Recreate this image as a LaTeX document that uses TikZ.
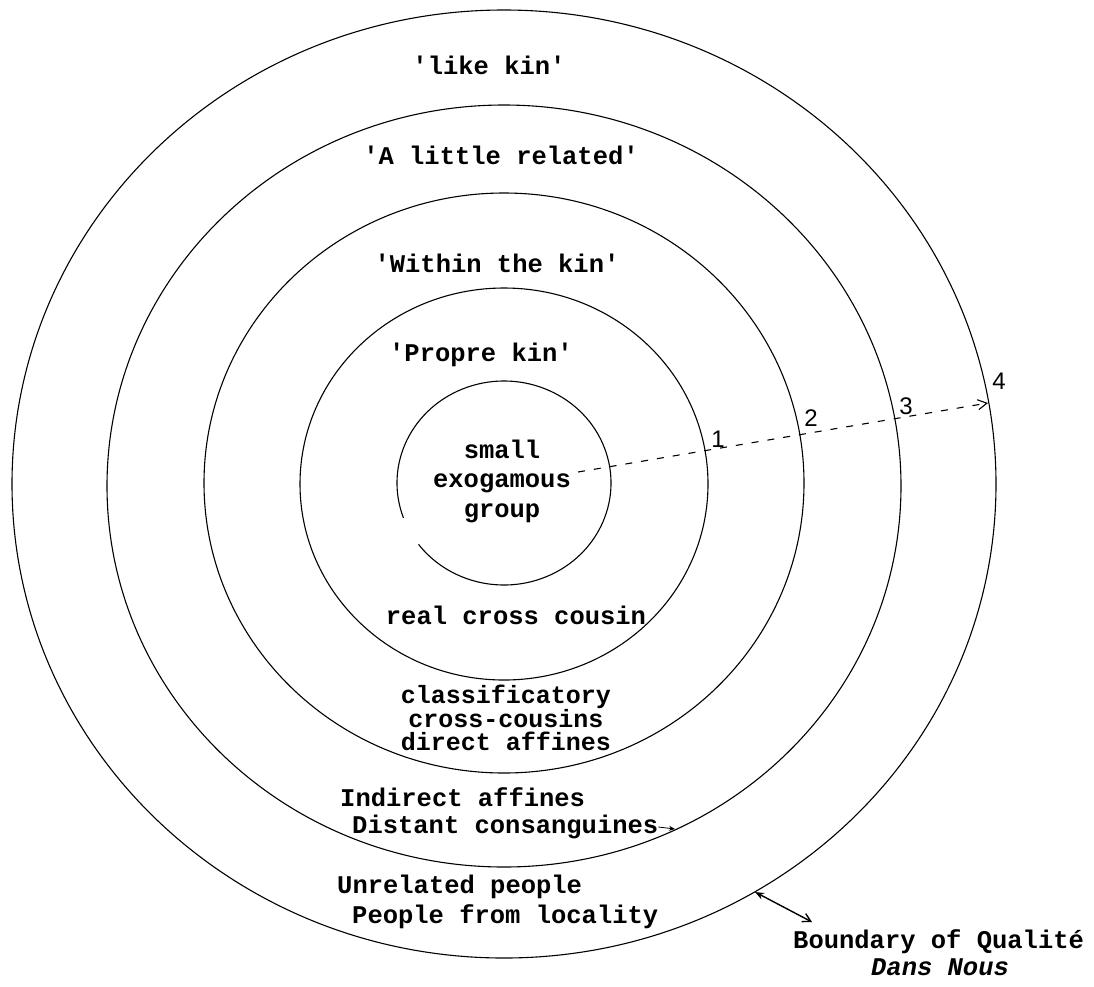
\documentclass[tikz,border=0pt]{standalone}
\usepackage{fontspec}
\setmainfont{Liberation Serif}
\setmonofont{Liberation Mono}
\setsansfont{Liberation Sans}
\usetikzlibrary{arrows.meta}

\begin{document}
\begin{tikzpicture}[x=1pt, y=-1pt,
    every node/.style={font=\ttfamily\bfseries\fontsize{25.5}{29.5}\selectfont, align=center, inner sep=0pt},
    ring/.style={line width=1.1pt},
    tight/.style={font=\ttfamily\bfseries\fontsize{25}{23}\selectfont},
    num/.style={font=\sffamily\fontsize{24}{24}\selectfont},
    ray/.style={line width=1.1pt, dash pattern=on 7pt off 9pt, -{Straight Barb[length=9pt, width=10pt]}},
    bnd/.style={line width=1.4pt, {Stealth[length=9pt, width=7pt]}-{Straight Barb[length=8pt, width=9pt]}}
]
\useasboundingbox (0,0) rectangle (1094,986);
% rings, innermost one with its small break
\draw[ring] (504,483) ++(160:107 and 102) arc[start angle=160, end angle=503, x radius=107, y radius=102];
\draw[ring] (504,484) ellipse[x radius=204, y radius=196];
\draw[ring] (504,483) ellipse[x radius=300, y radius=290];
\draw[ring] (504,486) ellipse[x radius=397, y radius=381];
\draw[ring] (504,484) ellipse[x radius=492, y radius=474];

\node (like) at (489,65) {'like kin'};
\node (little) at (501,155) {'A little related'};
\node (within) at (497,263) {'Within the kin'};
\node (propre) at (481,355) {'Propre kin'};
\node (small) at (502,481) {small\\exogamous\\group};
\node (real) at (516,615) {real cross cousin};
\node[tight] (classif) at (506,718) {classificatory\\cross-cousins\\direct affines};
\node[anchor=west] (indirect) at (340,797) {Indirect affines};
\node[anchor=west] (distant) at (352,827) {Distant consanguines};
\node[anchor=west] (unrel) at (337,887) {Unrelated people};
\node[anchor=west] (locality) at (352,917) {People from locality};
\node[anchor=west] (qual) at (793,942) {Boundary of Qualité};
\node[font=\ttfamily\bfseries\itshape\fontsize{25.5}{29.5}\selectfont] (nous) at (940,967) {Dans Nous};

% numbered boundaries
\node[num] (n1) at (718,439) {1};
\node[num] (n2) at (811,418) {2};
\node[num] (n3) at (906,406) {3};
\node[num] (n4) at (999,381) {4};

\coordinate (ctr) at (578,472);
\coordinate (edge) at (988,403);
\draw[ray] (ctr) -- (edge);

\coordinate (dpt) at (675,829);
\draw[line width=0.8pt, -{Stealth[length=6pt, width=5pt]}] (distant.east) -- (dpt);

\coordinate (bpt) at (755,892);
\coordinate (bend) at (812,922);
\draw[bnd] (bpt) -- (bend);
\end{tikzpicture}
\end{document}
